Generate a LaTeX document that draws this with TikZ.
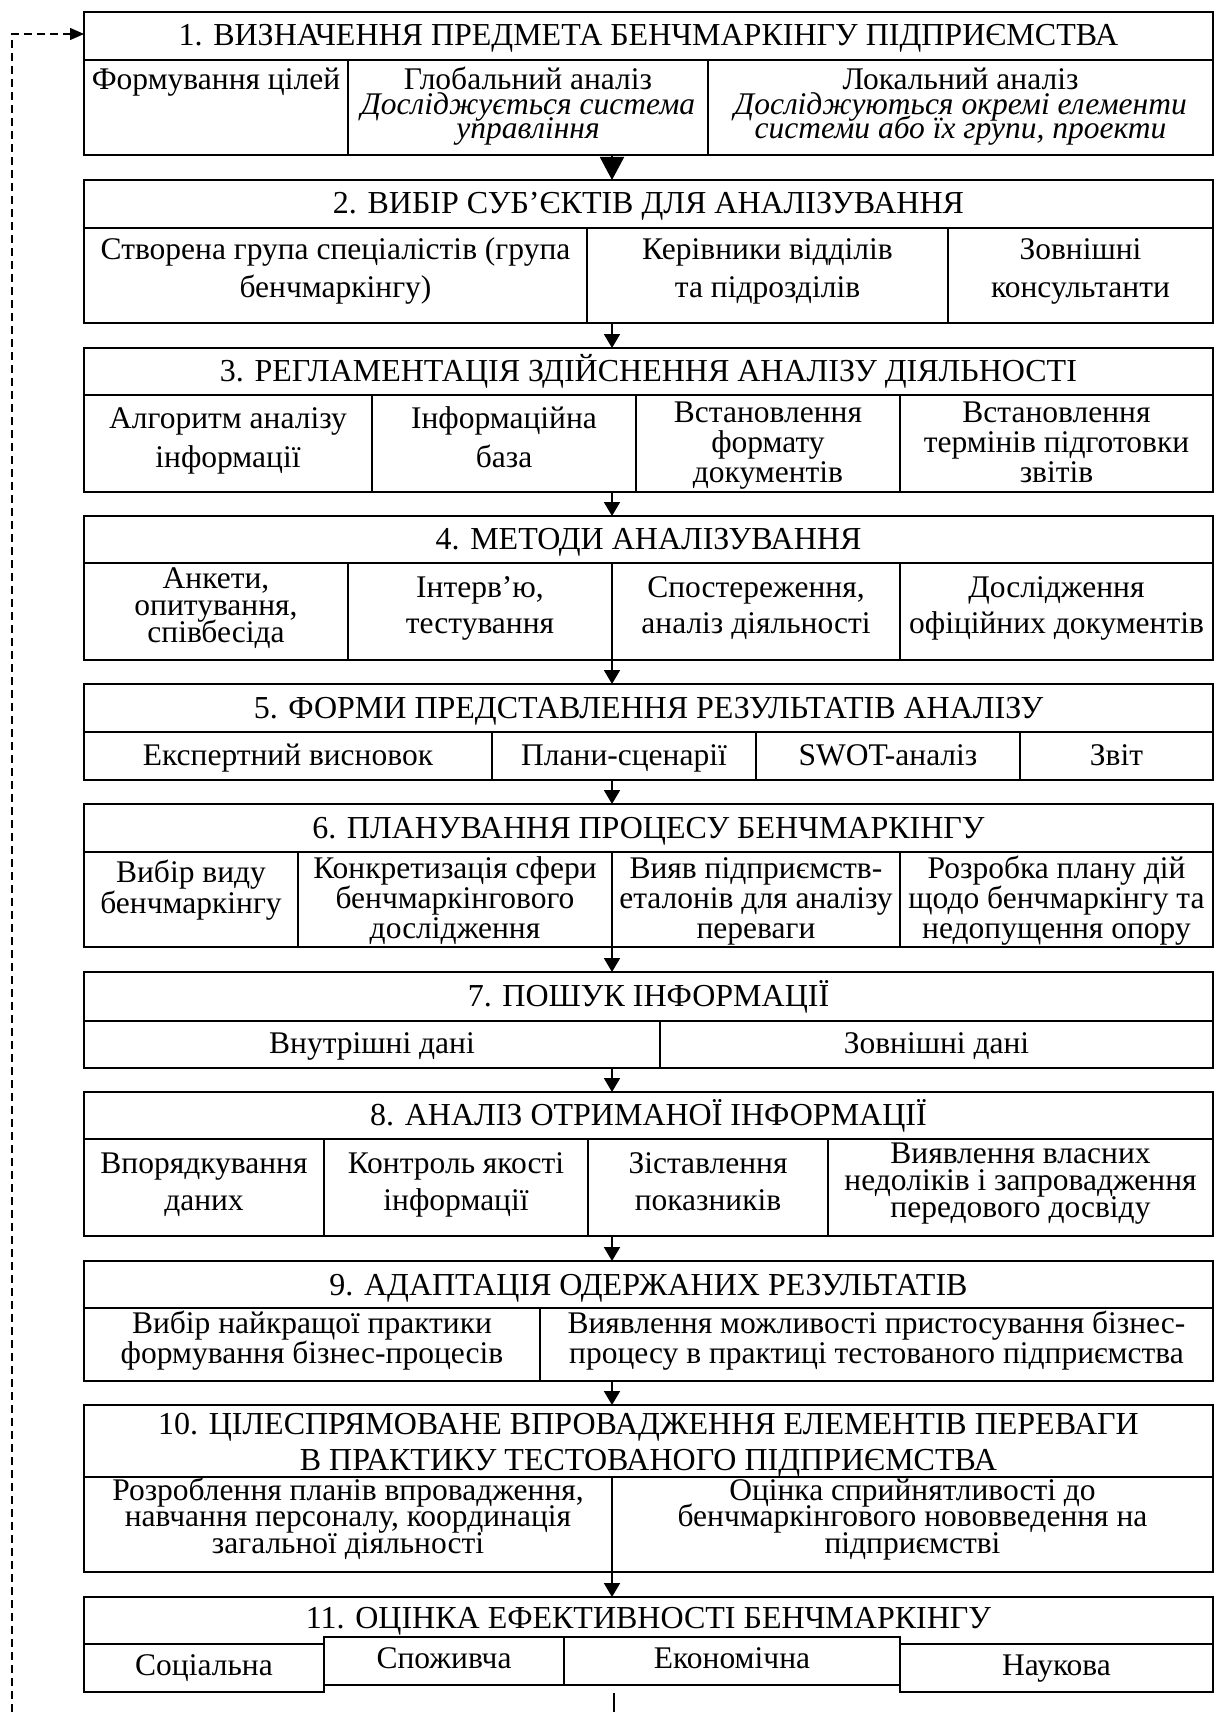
\documentclass[tikz,border=0pt]{standalone}
\usepackage{fontspec}
\setmainfont{Liberation Serif}
\usetikzlibrary{arrows.meta}
\newcommand\myblk[3]{\node[blk, minimum height={(#3)-(#2)}] (#1) at (648.5,{((#2)+(#3))/2}) {};}
\begin{document}
\begin{tikzpicture}[x=1pt,y=-1pt,
  blk/.style={draw, line width=2pt, minimum width=1129pt, inner sep=0pt, outer sep=0pt},
  cellbox/.style={draw, line width=2pt, inner sep=0pt, outer sep=0pt, fill=white},
  ln/.style={line width=2pt},
  tx/.style={anchor=base, align=center, inner sep=0pt, font=\fontsize{31.5}{#1}\selectfont\setlength\lineskiplimit{-100pt}},
  tx/.default=30,
  hd/.style={anchor=base, align=center, inner sep=0pt, font=\fontsize{32}{36}\selectfont\setlength\lineskiplimit{-100pt}},
  arr/.style={line width=2pt, -{Triangle[length=14pt,width=16pt]}},
  bigarr/.style={line width=2pt, -{Triangle[length=23pt,width=24pt]}},
  fb/.style={line width=1.3pt, dash pattern=on 8pt off 5pt, -{Triangle[length=14pt,width=12pt]}}
]
\useasboundingbox (0,0) rectangle (1218,1712);
\coordinate (ax) at (612,0);

% ---------- Block 1
\myblk{b1}{12}{155}
\draw[ln] (84,60) -- (1213,60);
\draw[ln] (348,60) -- (348,155);
\draw[ln] (708,60) -- (708,155);
\node[hd] (t1) at (648.5,46) {1. ВИЗНАЧЕННЯ ПРЕДМЕТА БЕНЧМАРКІНГУ ПІДПРИЄМСТВА};
\node[tx] (c11) at (216,90) {Формування цілей};
\node[tx=24.5] (c12) at (528,139) {Глобальний аналіз\\\textit{Досліджується система}\\\textit{управління}};
\node[tx=24.5] (c13) at (960.5,139) {Локальний аналіз\\\textit{Досліджуються окремі елементи}\\\textit{системи або їх групи, проекти}};

% ---------- Block 2
\myblk{b2}{180}{323}
\draw[ln] (84,228) -- (1213,228);
\draw[ln] (587,228) -- (587,323);
\draw[ln] (948,228) -- (948,323);
\node[hd] (t2) at (648.5,214) {2. ВИБІР СУБ’ЄКТІВ ДЛЯ АНАЛІЗУВАННЯ};
\node[tx=37] (c21) at (335.5,297) {Створена група спеціалістів (група\\бенчмаркінгу)};
\node[tx=37] (c22) at (767.5,297) {Керівники відділів\\та підрозділів};
\node[tx=37] (c23) at (1080.5,297) {Зовнішні\\консультанти};

% ---------- Block 3
\myblk{b3}{348}{492}
\draw[ln] (84,395) -- (1213,395);
\draw[ln] (372,395) -- (372,492);
\draw[ln] (636,395) -- (636,492);
\draw[ln] (900,395) -- (900,492);
\node[hd] (t3) at (648.5,381.5) {3. РЕГЛАМЕНТАЦІЯ ЗДІЙСНЕННЯ АНАЛІЗУ ДІЯЛЬНОСТІ};
\node[tx=39] (c31) at (228,467) {Алгоритм аналізу\\інформації};
\node[tx=39] (c32) at (504,467) {Інформаційна\\база};
\node[tx=30] (c33) at (768,482) {Встановлення\\формату\\документів};
\node[tx=30] (c34) at (1056.5,482) {Встановлення\\термінів підготовки\\звітів};

% ---------- Block 4
\myblk{b4}{516}{660}
\draw[ln] (84,563) -- (1213,563);
\draw[ln] (348,563) -- (348,660);
\draw[ln] (612,563) -- (612,660);
\draw[ln] (900,563) -- (900,660);
\node[hd] (t4) at (648.5,549.5) {4. МЕТОДИ АНАЛІЗУВАННЯ};
\node[tx=27] (c41) at (216,642) {Анкети,\\опитування,\\співбесіда};
\node[tx=36] (c42) at (480,633) {Інтерв’ю,\\тестування};
\node[tx=36] (c43) at (756,633) {Спостереження,\\аналіз діяльності};
\node[tx=36] (c44) at (1056.5,633) {Дослідження\\офіційних документів};

% ---------- Block 5
\myblk{b5}{684}{780}
\draw[ln] (84,732) -- (1213,732);
\draw[ln] (492,732) -- (492,780);
\draw[ln] (756,732) -- (756,780);
\draw[ln] (1020,732) -- (1020,780);
\node[hd] (t5) at (648.5,718) {5. ФОРМИ ПРЕДСТАВЛЕННЯ РЕЗУЛЬТАТІВ АНАЛІЗУ};
\node[tx] (c51) at (288,765) {Експертний висновок};
\node[tx] (c52) at (624,765) {Плани-сценарії};
\node[tx] (c53) at (888,765) {SWOT-аналіз};
\node[tx] (c54) at (1116.5,765) {Звіт};

% ---------- Block 6
\myblk{b6}{804}{947}
\draw[ln] (84,852) -- (1213,852);
\draw[ln] (298,852) -- (298,947);
\draw[ln] (612,852) -- (612,947);
\draw[ln] (900,852) -- (900,947);
\node[hd] (t6) at (648.5,838.5) {6. ПЛАНУВАННЯ ПРОЦЕСУ БЕНЧМАРКІНГУ};
\node[tx=31] (c61) at (191,913) {Вибір виду\\бенчмаркінгу};
\node[tx=30] (c62) at (455,938) {Конкретизація сфери\\бенчмаркінгового\\дослідження};
\node[tx=30] (c63) at (756,938) {Вияв підприємств-\\еталонів для аналізу\\переваги};
\node[tx=30] (c64) at (1056.5,938) {Розробка плану дій\\щодо бенчмаркінгу та\\недопущення опору};

% ---------- Block 7
\myblk{b7}{972}{1068}
\draw[ln] (84,1021) -- (1213,1021);
\draw[ln] (660,1021) -- (660,1068);
\node[hd] (t7) at (648.5,1006.5) {7. ПОШУК ІНФОРМАЦІЇ};
\node[tx] (c71) at (372,1053) {Внутрішні дані};
\node[tx] (c72) at (936.5,1053) {Зовнішні дані};

% ---------- Block 8
\myblk{b8}{1092}{1236}
\draw[ln] (84,1139) -- (1213,1139);
\draw[ln] (324,1139) -- (324,1236);
\draw[ln] (588,1139) -- (588,1236);
\draw[ln] (828,1139) -- (828,1236);
\node[hd] (t8) at (648.5,1125.5) {8. АНАЛІЗ ОТРИМАНОЇ ІНФОРМАЦІЇ};
\node[tx=37] (c81) at (204,1210) {Впорядкування\\даних};
\node[tx=37] (c82) at (456,1210) {Контроль якості\\інформації};
\node[tx=37] (c83) at (708,1210) {Зіставлення\\показників};
\node[tx=27] (c84) at (1020.5,1217) {Виявлення власних\\недоліків і запровадження\\передового досвіду};

% ---------- Block 9
\myblk{b9}{1261}{1381}
\draw[ln] (84,1308) -- (1213,1308);
\draw[ln] (540,1308) -- (540,1381);
\node[hd] (t9) at (648.5,1295) {9. АДАПТАЦІЯ ОДЕРЖАНИХ РЕЗУЛЬТАТІВ};
\node[tx=30] (c91) at (312,1363) {Вибір найкращої практики\\формування бізнес-процесів};
\node[tx=30] (c92) at (876.5,1363) {Виявлення можливості пристосування бізнес-\\процесу в практиці тестованого підприємства};

% ---------- Block 10
\myblk{b10}{1405}{1572}
\draw[ln] (84,1477) -- (1213,1477);
\coordinate (b10split) at (612,1477);
\node[hd] (t10) at (648.5,1470) {10. ЦІЛЕСПРЯМОВАНЕ ВПРОВАДЖЕННЯ ЕЛЕМЕНТІВ ПЕРЕВАГИ\\В ПРАКТИКУ ТЕСТОВАНОГО ПІДПРИЄМСТВА};
\node[tx=26.5] (c101) at (348,1553) {Розроблення планів впровадження,\\навчання персоналу, координація\\загальної діяльності};
\node[tx=26.5] (c102) at (912.5,1553) {Оцінка сприйнятливості до\\бенчмаркінгового нововведення на\\підприємстві};

% ---------- Block 11
\node[blk, minimum height=47pt] (b11) at (648.5,1620.5) {};
\node[cellbox, minimum width=240pt, minimum height=48pt] (s1) at (204,1668) {};
\node[cellbox, minimum width=313pt, minimum height=48pt] (s4) at (1056.5,1668) {};
\node[cellbox, minimum width=240pt, minimum height=48pt] (s2) at (444,1661) {};
\node[cellbox, minimum width=336pt, minimum height=48pt] (s3) at (732,1661) {};
\node[hd] (t11) at (648.5,1628) {11. ОЦІНКА ЕФЕКТИВНОСТІ БЕНЧМАРКІНГУ};
\node[tx] (c111) at (204,1675) {Соціальна};
\node[tx] (c112) at (444,1668) {Споживча};
\node[tx] (c113) at (732,1668) {Економічна};
\node[tx] (c114) at (1056.5,1675) {Наукова};

% ---------- Arrows
\draw[bigarr] (b1.south -| ax) -- (b2.north -| ax);
\draw[arr] (b2.south -| ax) -- (b3.north -| ax);
\draw[arr] (b3.south -| ax) -- (b4.north -| ax);
\draw[arr] (b4.south -| ax) -- (b5.north -| ax);
\draw[arr] (b5.south -| ax) -- (b6.north -| ax);
\draw[arr] (b6.south -| ax) -- (b7.north -| ax);
\draw[arr] (b7.south -| ax) -- (b8.north -| ax);
\draw[arr] (b8.south -| ax) -- (b9.north -| ax);
\draw[arr] (b9.south -| ax) -- (b10.north -| ax);
\draw[arr] (b10split) -- (b11.north -| ax);

% ---------- tail and feedback
\coordinate (tl1) at (614,1693);
\coordinate (tl2) at (614,1712);
\draw[line width=1.6pt] (tl1) -- (tl2);
\coordinate (fb0) at (12,1712);
\coordinate (fb1) at (12,34);
\draw[fb] (fb0) -- (fb1) -- (fb1 -| b1.west);
\end{tikzpicture}
\end{document}
